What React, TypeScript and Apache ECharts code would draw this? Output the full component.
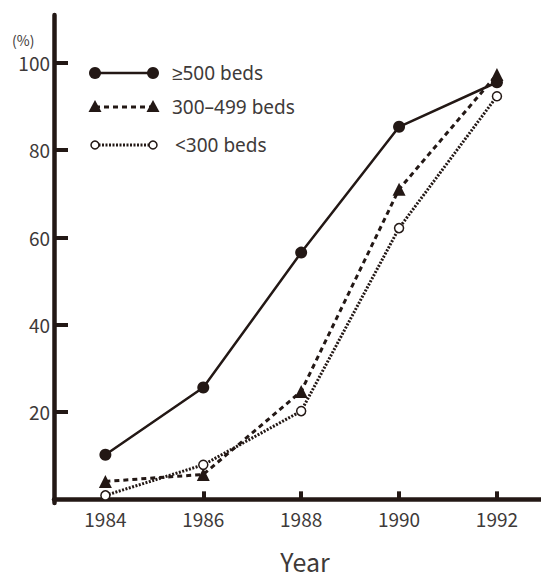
import React, { useEffect, useRef } from "react";
import * as echarts from "echarts";

const years = [1984, 1986, 1988, 1990, 1992];
const large = [10.2, 25.6, 56.5, 85.3, 95.5];
const medium = [4.1, 5.7, 24.7, 71.0, 97.3];
const small = [0.9, 7.9, 20.2, 62.1, 92.3];
const seriesNames = ["≥500 beds", "300–499 beds", "<300 beds"];
const yTickValues = [20, 40, 60, 80, 100];
const xTickValues = [1986, 1988, 1990, 1992];
const xLabelValues = [1984, 1986, 1988, 1990, 1992];

const INK = "#231815";
const TXT = "#3e3a39";
const FONT = "'Noto Sans CJK JP', 'Noto Sans', sans-serif";
const LFONT = "'Noto Sans', sans-serif";

export default function App() {
  const ref = useRef<HTMLDivElement>(null);
  useEffect(() => {
    const chart = echarts.init(ref.current!, null, { renderer: "svg" });
    const pts = (arr: number[]) => years.map((y, i) => [y, arr[i]]);
    const legendRow = (y: number, name: string, kind: number) => {
      const els: any[] = [];
      const x1 = 95, x2 = 153;
      const lineStyle: any = { stroke: INK, lineWidth: kind === 0 ? 2.5 : 3 };
      if (kind === 1) lineStyle.lineDash = [5, 4];
      if (kind === 2) lineStyle.lineDash = [2, 1.5];
      els.push({ type: "line", shape: { x1, y1: y, x2, y2: y }, style: lineStyle, z: 10 });
      [x1, x2].forEach((x) => {
        if (kind === 0) els.push({ type: "circle", shape: { cx: x, cy: y, r: 6 }, style: { fill: INK }, z: 11 });
        if (kind === 1) els.push({ type: "polygon", shape: { points: [[x, y - 7], [x - 6.5, y + 5], [x + 6.5, y + 5]] }, style: { fill: INK }, z: 11 });
        if (kind === 2) els.push({ type: "circle", shape: { cx: x, cy: y, r: 4 }, style: { fill: "#fff", stroke: INK, lineWidth: 1.5 }, z: 11 });
      });
      els.push({
        type: "text", x: kind === 2 ? 175 : 172, y, style: { text: name, fill: TXT, font: `19px ${LFONT}`, verticalAlign: "middle" }, z: 11,
      });
      return els;
    };
    chart.setOption({
      animation: false,
      backgroundColor: "#fff",
      grid: { left: 54, right: 0, top: 15, bottom: 70, containLabel: false },
      xAxis: {
        type: "value", min: 1982.95, max: 1992.9,
        axisLine: { show: true, lineStyle: { color: INK, width: 4.5 } },
        axisTick: { show: true, inside: true, length: 8, lineStyle: { color: INK, width: 4 }, customValues: xTickValues },
        axisLabel: {
          show: true, color: TXT, fontSize: 19, fontFamily: FONT, margin: 6, customValues: xLabelValues,
          formatter: (v: number) => String(Math.round(v)),
        },
        splitLine: { show: false },
        name: "Year", nameLocation: "middle", nameGap: 45,
        nameTextStyle: { color: TXT, fontSize: 25, fontFamily: FONT, padding: [0, 0, 0, 15] },
      },
      yAxis: {
        type: "value", min: -0.84, max: 110.9,
        axisLine: { show: true, lineStyle: { color: INK, width: 4.5 } },
        axisTick: { show: true, inside: true, length: 14, lineStyle: { color: INK, width: 4 }, customValues: yTickValues },
        axisLabel: {
          show: true, color: TXT, fontSize: 19, fontFamily: FONT, margin: 4, customValues: yTickValues, lineHeight: 19,
          formatter: (v: number) => String(Math.round(v)),
        },
        splitLine: { show: false },
      },
      graphic: [
        { type: "text", x: 12, y: 40, style: { text: "(%)", fill: TXT, font: `14px ${FONT}`, verticalAlign: "middle" } },
        ...legendRow(73, seriesNames[0], 0),
        ...legendRow(107, seriesNames[1], 1),
        ...legendRow(145, seriesNames[2], 2),
      ],
      series: [
        {
          name: seriesNames[0], type: "line", data: pts(large), symbol: "circle", symbolSize: 12,
          lineStyle: { color: INK, width: 2.5 }, itemStyle: { color: INK }, z: 3,
        },
        {
          name: seriesNames[1], type: "line", data: pts(medium), symbol: "triangle", symbolSize: 13,
          lineStyle: { color: INK, width: 3, type: [5, 4] }, itemStyle: { color: INK }, z: 4,
        },
        {
          name: seriesNames[2], type: "line", data: pts(small), symbol: "circle", symbolSize: 9,
          lineStyle: { color: INK, width: 3, type: [2, 1.5] }, itemStyle: { color: "#fff", borderColor: INK, borderWidth: 1.5 }, z: 5,
        },
      ],
    });
    return () => chart.dispose();
  }, []);
  return <div ref={ref} style={{ position: "fixed", left: 0, top: 0, width: 541, height: 578 }} />;
}
